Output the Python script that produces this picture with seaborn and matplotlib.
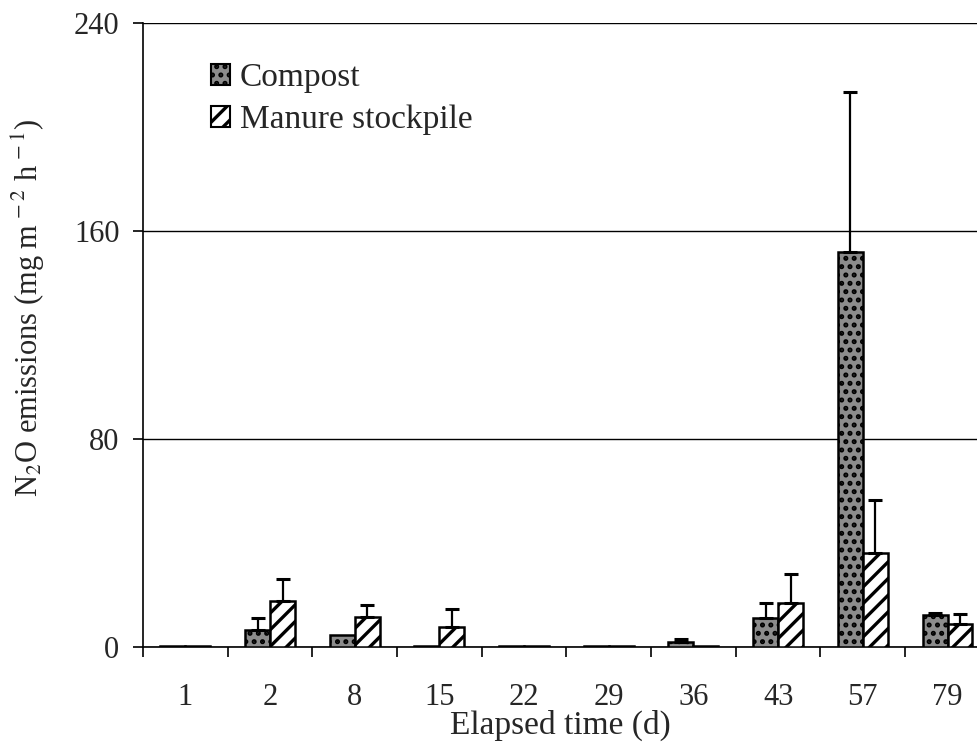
import numpy as np
import pandas as pd
import matplotlib
matplotlib.use("Agg")
import matplotlib.pyplot as plt
import seaborn as sns
from matplotlib.patches import Patch

# Sampling days and mean N2O fluxes (mg m-2 h-1) with standard errors
days = ["1", "2", "8", "15", "22", "29", "36", "43", "57", "79"]
compost = [0.3, 6.4, 4.5, 0.5, 0.2, 0.2, 2.0, 11.2, 152.0, 12.5]
compost_err = [0.0, 4.8, 0.0, 0.0, 0.0, 0.0, 1.0, 5.6, 61.5, 0.5]
manure = [0.5, 17.7, 11.7, 7.8, 0.2, 0.2, 0.5, 16.8, 36.0, 8.8]
manure_err = [0.0, 8.6, 4.5, 6.9, 0.0, 0.0, 0.0, 11.2, 20.5, 3.9]
series = ["Compost", "Manure stockpile"]

sns.set_theme(style="white")
plt.rcParams["font.family"] = ["Liberation Serif", "DejaVu Serif"]
plt.rcParams["mathtext.fontset"] = "stix"
plt.rcParams["hatch.linewidth"] = 2.4
plt.rcParams["hatch.color"] = "black"

df = pd.DataFrame({
    "day": days * 2,
    "flux": compost + manure,
    "err": compost_err + manure_err,
    "source": [series[0]] * len(days) + [series[1]] * len(days),
})

fig = plt.figure(figsize=(9.78, 7.44), dpi=100)
ax = fig.add_axes([143 / 978, 97 / 744, 835 / 978, 624 / 744])

sns.barplot(data=df, x="day", y="flux", hue="source", order=days,
            hue_order=series, errorbar=None, width=0.59, ax=ax,
            legend=False, zorder=3)

styles = [dict(facecolor="#8c8c8c", hatch="..", edgecolor="black"),
          dict(facecolor="white", hatch="//", edgecolor="black")]
errs = [compost_err, manure_err]
vals = [compost, manure]
for cont, st, e, v in zip(ax.containers, styles, errs, vals):
    xs = []
    for p in cont.patches:
        p.set_facecolor(st["facecolor"])
        p.set_hatch(st["hatch"])
        p.set_edgecolor(st["edgecolor"])
        p.set_linewidth(1.8)
        xs.append(p.get_x() + p.get_width() / 2)
    xs = np.array(xs)
    e = np.array(e)
    v = np.array(v)
    mask = e > 0
    ax.errorbar(xs[mask], v[mask], yerr=[np.zeros(mask.sum()), e[mask]],
                fmt="none", ecolor="black", elinewidth=1.6, capsize=5,
                capthick=2.2, zorder=4)

ax.set_ylim(0, 240)
ax.set_yticks([0, 80, 160, 240])
ax.set_xlim(-0.5, 9.36)
ax.yaxis.grid(True, color="black", linewidth=1.0, zorder=0)
ax.set_axisbelow(True)
for s in ["top", "right"]:
    ax.spines[s].set_visible(False)
ax.spines["left"].set_color("black")
ax.spines["bottom"].set_color("black")
ax.spines["left"].set_linewidth(1.2)
ax.spines["bottom"].set_linewidth(1.2)

# category-boundary tick marks below the axis, labels centred on groups
ax.set_xticks(np.arange(-0.5, 9.5, 1.0), minor=True)
ax.tick_params(axis="x", which="minor", length=7, width=1.2, direction="out",
               color="black", bottom=True)
ax.tick_params(axis="x", which="major", length=0, labelsize=22, pad=26)
ax.tick_params(axis="y", length=7, width=1.2, direction="out", color="black",
               left=True, labelsize=22, pad=10)

ax.set_xlabel("Elapsed time (d)", fontsize=24, labelpad=-2)
ax.set_ylabel(r"N$_2$O emissions (mg m$^{\,-2}$ h$^{\,-1}$)", fontsize=22)
ax.yaxis.set_label_coords(-96 / 835, 0.543)

handles = [Patch(facecolor=styles[i]["facecolor"], hatch=styles[i]["hatch"],
                 edgecolor="black", linewidth=1.5, label=series[i])
           for i in range(2)]
ax.legend(handles=handles, loc="upper left", bbox_to_anchor=(0.065, 0.958),
          frameon=False, fontsize=24, handlelength=0.58, handleheight=0.58,
          handletextpad=0.3, labelspacing=0.35, borderaxespad=0)

fig.savefig("out.png", dpi=100)
